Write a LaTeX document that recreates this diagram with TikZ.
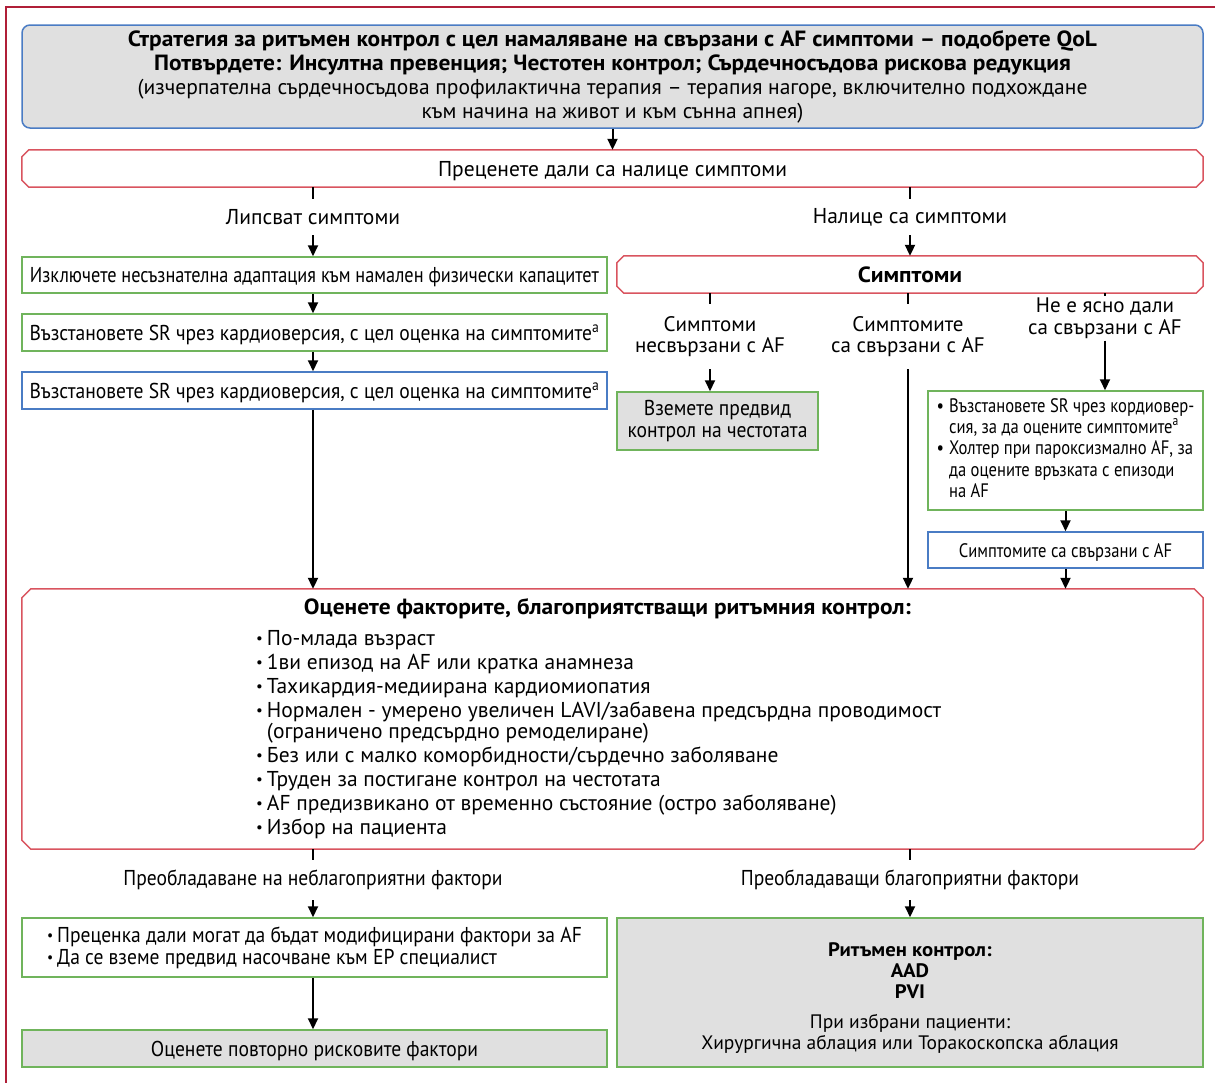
\documentclass[tikz,border=0pt]{standalone}
\usepackage{fontspec}
\setmainfont{PT Sans}
\newfontfamily\condfont[FakeStretch=0.85]{PT Sans}
\newfontfamily\semicond[FakeStretch=0.91]{PT Sans}
\newfontfamily\widefont[FakeStretch=1.065]{PT Sans}
\usetikzlibrary{arrows.meta}

\definecolor{frameRed}{HTML}{B01F38}
\definecolor{boxRed}{HTML}{D9545F}
\definecolor{boxGreen}{HTML}{70B45C}
\definecolor{boxBlue}{HTML}{4A7CC4}
\definecolor{boxGray}{HTML}{E0E0E0}

% outline with cut corners, drawn around an existing node
\newcommand\chamferbox[2]{%
  \draw[boxRed, line width=1.5pt]
    ([xshift=#2]#1.north west) -- ([xshift=-#2]#1.north east)
    -- ([yshift=-#2]#1.north east) -- ([yshift=#2]#1.south east)
    -- ([xshift=-#2]#1.south east) -- ([xshift=#2]#1.south west)
    -- ([yshift=#2]#1.south west) -- ([yshift=-#2]#1.north west) -- cycle;}
% small list bullet
\newcommand\bul{{\fontsize{15}{15}\selectfont\raisebox{0.12em}{•}}\hspace{4pt}}

\tikzset{
  base/.style={inner sep=0pt, align=center, font=\fontsize{21.5}{24}\selectfont},
  condtext/.style={font=\condfont\fontsize{21.5}{22}\selectfont},
  semitext/.style={font=\semicond\fontsize{21.5}{22}\selectfont},
  oneline/.style={text height=15pt, text depth=0pt},
  gbox/.style={base, draw=boxGreen, line width=1.5pt},
  bbox/.style={base, draw=boxBlue, line width=1.5pt},
  plainbox/.style={base},
  lbl/.style={base, fill=none},
  conn/.style={line width=2pt, black},
  arr/.style={conn, -{Triangle[length=11pt,width=10pt]}},
  frameline/.style={frameRed, line width=2.5pt},
}

\begin{document}
\begin{tikzpicture}[x=1pt, y=-1pt]
\useasboundingbox (0,0) rectangle (1215,1082);
\fill[white] (0,0) rectangle (1215,1082);
\draw[frameline] (6,1100) -- (6,7) -- (1230,7);

% header
\node[base, draw=boxBlue, fill=boxGray, line width=1.5pt, rounded corners=8pt,
      minimum width=1181pt, minimum height=103pt] (top) at (612.5,76.5)
  {{\widefont\bfseries\fontsize{22}{24}\selectfont Стратегия за ритъмен контрол с цел намаляване на свързани с AF симптоми – подобрете QoL}\\
   {\widefont\bfseries\fontsize{22}{24}\selectfont Потвърдете: Инсултна превенция; Честотен контрол; Сърдечносъдова рискова редукция}\\
   (изчерпателна сърдечносъдова профилактична терапия – терапия нагоре, включително подхождане\\
   към начина на живот и към сънна апнея)};

\node[plainbox, oneline, minimum width=1181pt, minimum height=37pt] (assess) at (612.5,168.5)
  {Преценете дали са налице симптоми};
\chamferbox{assess}{7pt}

\node[lbl, minimum height=36pt] (nosym) at (313,217) {Липсват симптоми};
\node[lbl, minimum height=36pt] (yessym) at (910,217) {Налице са симптоми};

% left column
\node[gbox, condtext, oneline, minimum width=585pt, minimum height=36pt] (excl) at (314.5,275)
  {Изключете несъзнателна адаптация към намален физически капацитет};
\node[gbox, semitext, oneline, minimum width=585pt, minimum height=37pt] (cv1) at (314.5,332.5)
  {Възстановете SR чрез кардиоверсия, с цел оценка на симптомите\textsuperscript{a}};
\node[bbox, semitext, oneline, minimum width=585pt, minimum height=37pt] (cv2) at (314.5,390.5)
  {Възстановете SR чрез кардиоверсия, с цел оценка на симптомите\textsuperscript{a}};

% right column
\node[plainbox, oneline, minimum width=586pt, minimum height=37pt,
      font=\widefont\bfseries\fontsize{22}{24}\selectfont]
  (sym) at (910,274.5) {Симптоми};
\chamferbox{sym}{7pt}

\node[lbl, minimum height=65pt, font=\fontsize{21}{21}\selectfont] (unrel) at (710,336.5)
  {Симптоми\\несвързани с AF};
\node[lbl, minimum height=65pt, font=\fontsize{21}{21}\selectfont] (rel) at (908,336.5)
  {Симптомите\\са свързани с AF};
\node[lbl, minimum height=44pt, font=\fontsize{21}{22}\selectfont] (unclear) at (1105,318.5)
  {Не е ясно дали\\са свързани с AF};

\node[gbox, semitext, fill=boxGray, minimum width=201pt, minimum height=58pt] (rate) at (717.5,421)
  {Вземете предвид\\контрол на честотата};

\node[gbox, minimum width=275pt, minimum height=119pt] (ubox) at (1065.5,450.5)
  {\condfont\fontsize{19.5}{21.3}\selectfont
   \begin{tabular}{@{}l@{\hspace{5pt}}l@{}}
   • & Възстановете SR чрез кордиовер-\\
     & сия, за да оцените симптомите\textsuperscript{a}\\
   • & Холтер при пароксизмално AF, за\\
     & да оцените връзката с епизоди\\
     & на AF
   \end{tabular}};

\node[bbox, oneline, minimum width=275pt, minimum height=36pt, font=\condfont\fontsize{19.5}{21}\selectfont]
  (srel) at (1065.5,550) {Симптомите са свързани с AF};

% factors
\node[plainbox, minimum width=1181pt, minimum height=260pt] (fact) at (612.5,719) {};
\chamferbox{fact}{9pt}
\node[base, font=\widefont\bfseries\fontsize{22}{24}\selectfont] (ftitle) at (607.5,609)
  {Оценете факторите, благоприятстващи ритъмния контрол:};
\node[base, align=left, anchor=north west] (flist) at (256,630)
  {\bul По-млада възраст\\
   \bul 1ви епизод на AF или кратка анамнеза\\
   \bul Тахикардия-медиирана кардиомиопатия\\
   \bul Нормален - умерено увеличен LAVI/забавена предсърдна проводимост\\[-3pt]
   \phantom{\bul}(ограничено предсърдно ремоделиране)\\
   \bul Без или с малко коморбидности/сърдечно заболяване\\
   \bul Труден за постигане контрол на честотата\\
   \bul AF предизвикано от временно състояние (остро заболяване)\\
   \bul Избор на пациента};

\node[lbl, semitext, minimum height=40pt] (unfav) at (313,880) {Преобладаване на неблагоприятни фактори};
\node[lbl, semitext, minimum height=40pt] (fav) at (910,880) {Преобладаващи благоприятни фактори};

\node[gbox, semitext, minimum width=585pt, minimum height=59pt, align=left] (modif) at (314.5,947.5)
  {\bul Преценка дали могат да бъдат модифицирани фактори за AF\\
   \bul Да се вземе предвид насочване към EP специалист};
\node[gbox, semitext, oneline, fill=boxGray, minimum width=585pt, minimum height=37pt] (reassess) at (314.5,1048.5)
  {Оценете повторно рисковите фактори};
\node[gbox, fill=boxGray, minimum width=586pt, minimum height=149pt] (rhythm) at (910,992.5) {};
\node[base, font=\fontsize{19.5}{21}\selectfont] (rhythmtext) at (910,998.5)
  {{\widefont\bfseries\fontsize{19.5}{21}\selectfont Ритъмен контрол:}\\
   {\widefont\bfseries\fontsize{19.5}{21}\selectfont AAD}\\
   {\widefont\bfseries\fontsize{19.5}{21}\selectfont PVI}\\[9pt]
   При избрани пациенти:\\
   Хирургична аблация или Торакоскопска аблация};

% connectors
\draw[arr] (top.south) -- (assess.north);
\draw[conn] (assess.south -| nosym) -- (nosym.north);
\draw[arr] (nosym.south) -- (nosym.south |- excl.north);
\draw[conn] (assess.south -| yessym) -- (yessym.north);
\draw[arr] (yessym.south) -- (yessym.south |- sym.north);
\draw[arr] (excl.south -| nosym) -- (cv1.north -| nosym);
\draw[arr] (cv1.south -| nosym) -- (cv2.north -| nosym);
\draw[arr] (cv2.south -| nosym) -- (fact.north -| nosym);
\draw[conn] (sym.south -| unrel) -- (unrel.north);
\draw[conn] (sym.south -| rel) -- (rel.north);
\draw[conn] (sym.south -| unclear) -- (unclear.north);
\draw[arr] (unrel.south) -- (unrel.south |- rate.north);
\draw[arr] (rel.south) -- (rel.south |- fact.north);
\draw[arr] (unclear.south) -- (unclear.south |- ubox.north);
\draw[arr] (ubox.south -| srel) -- (srel.north);
\draw[arr] (srel.south) -- (srel.south |- fact.north);
\draw[conn] (fact.south -| unfav) -- (unfav.north);
\draw[arr] (unfav.south) -- (unfav.south |- modif.north);
\draw[arr] (modif.south -| unfav) -- (reassess.north -| unfav);
\draw[conn] (fact.south -| fav) -- (fav.north);
\draw[arr] (fav.south) -- (fav.south |- rhythm.north);
\end{tikzpicture}
\end{document}
